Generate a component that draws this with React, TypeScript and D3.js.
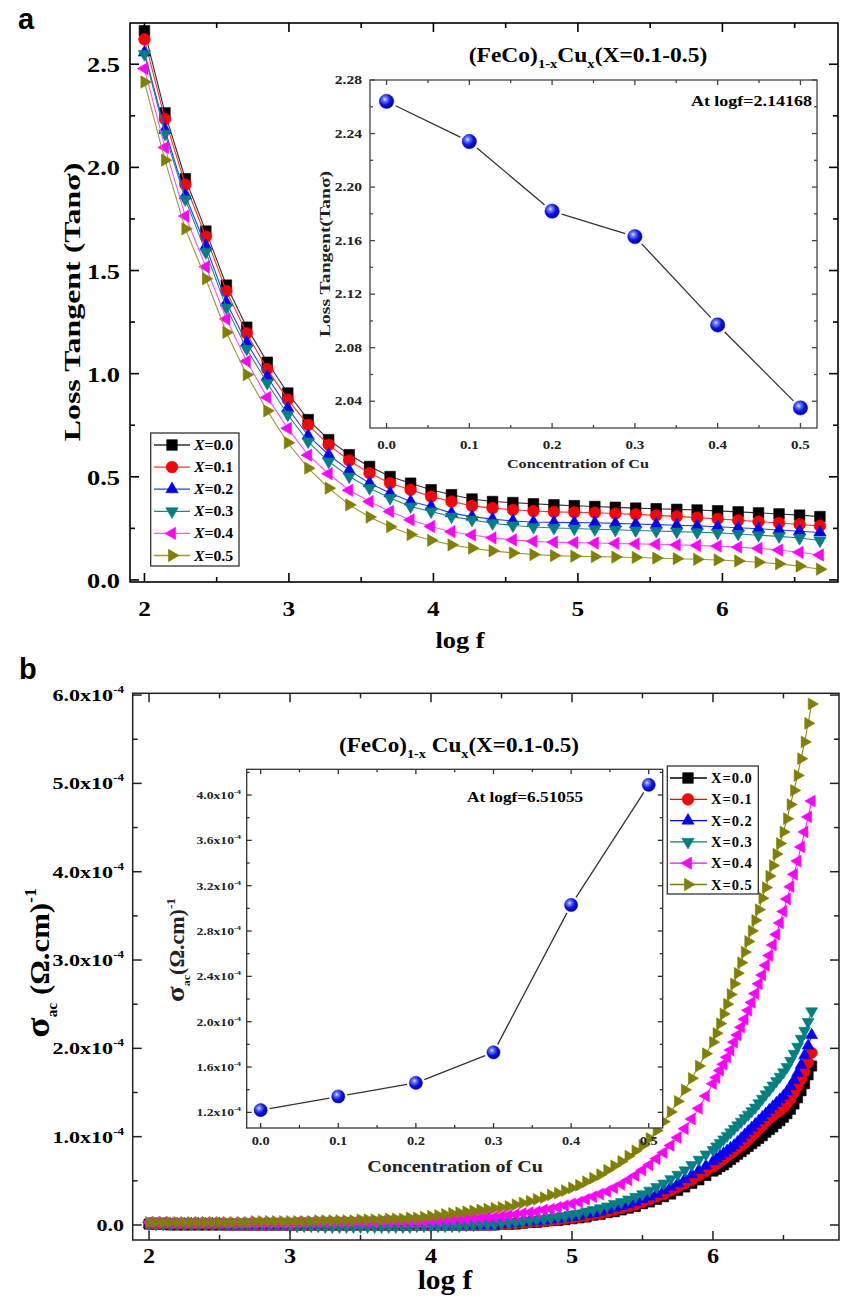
import React from 'react';
import * as d3 from 'd3';

const SERIF = '"Liberation Serif", "Times New Roman", serif';
const SANS = '"Liberation Sans", Arial, sans-serif';

// ---------------- DATA ----------------
const seriesNames = ['X=0.0', 'X=0.1', 'X=0.2', 'X=0.3', 'X=0.4', 'X=0.5'];
const seriesColors = ['#000000', '#ff0000', '#0000ff', '#008080', '#ff00ff', '#808000'];
const lineColorsA = ['#303030', '#ff3030', '#2040ff', '#208888', '#ff50ff', '#9a9a30'];
const seriesShapes = ['square', 'circle', 'up', 'down', 'left', 'right'];

// Panel a: loss tangent vs log f
const logfA = [2.000, 2.142, 2.283, 2.425, 2.567, 2.708, 2.850, 2.992, 3.133, 3.275, 3.417, 3.558, 3.700, 3.842, 3.984, 4.125, 4.267, 4.409, 4.550, 4.692, 4.834, 4.975, 5.117, 5.259, 5.400, 5.542, 5.684, 5.825, 5.967, 6.109, 6.250, 6.392, 6.534, 6.675];
const tanX00 = [2.662, 2.264, 1.945, 1.691, 1.429, 1.225, 1.055, 0.906, 0.777, 0.680, 0.607, 0.550, 0.501, 0.469, 0.437, 0.413, 0.392, 0.380, 0.375, 0.369, 0.364, 0.360, 0.356, 0.352, 0.348, 0.345, 0.342, 0.339, 0.335, 0.330, 0.325, 0.320, 0.314, 0.307];
const tanX01 = [2.621, 2.234, 1.917, 1.664, 1.400, 1.195, 1.022, 0.874, 0.752, 0.655, 0.579, 0.518, 0.469, 0.437, 0.404, 0.380, 0.359, 0.348, 0.340, 0.334, 0.330, 0.328, 0.326, 0.322, 0.318, 0.313, 0.308, 0.302, 0.296, 0.289, 0.283, 0.276, 0.269, 0.262];
const tanX02 = [2.557, 2.182, 1.864, 1.618, 1.345, 1.150, 0.985, 0.833, 0.699, 0.607, 0.531, 0.469, 0.421, 0.380, 0.356, 0.324, 0.307, 0.295, 0.286, 0.281, 0.279, 0.278, 0.277, 0.274, 0.271, 0.268, 0.265, 0.262, 0.258, 0.253, 0.248, 0.242, 0.236, 0.230];
const tanX03 = [2.549, 2.163, 1.845, 1.589, 1.320, 1.120, 0.955, 0.801, 0.671, 0.574, 0.501, 0.445, 0.397, 0.356, 0.332, 0.307, 0.291, 0.275, 0.264, 0.257, 0.252, 0.249, 0.246, 0.243, 0.240, 0.237, 0.234, 0.231, 0.228, 0.223, 0.217, 0.211, 0.203, 0.191];
const tanX04 = [2.479, 2.097, 1.764, 1.518, 1.265, 1.060, 0.885, 0.735, 0.605, 0.515, 0.435, 0.380, 0.332, 0.291, 0.259, 0.234, 0.218, 0.204, 0.194, 0.187, 0.183, 0.181, 0.179, 0.177, 0.175, 0.173, 0.170, 0.167, 0.164, 0.159, 0.153, 0.145, 0.134, 0.121];
const tanX05 = [2.414, 2.035, 1.702, 1.460, 1.200, 0.995, 0.820, 0.665, 0.542, 0.445, 0.364, 0.305, 0.258, 0.220, 0.192, 0.170, 0.154, 0.141, 0.131, 0.123, 0.118, 0.115, 0.113, 0.111, 0.109, 0.106, 0.103, 0.100, 0.097, 0.092, 0.086, 0.078, 0.067, 0.052];

// Inset a: loss tangent at log f = 2.14168 vs Cu concentration
const cuConc = [0.0, 0.1, 0.2, 0.3, 0.4, 0.5];
const tanAtLow = [2.264, 2.234, 2.182, 2.163, 2.097, 2.035];

// Panel b: sigma_ac (x10^-4 (Ohm.cm)^-1) vs log f
const logfB = [
  2.00, 2.05, 2.10, 2.15, 2.20, 2.25, 2.30, 2.35, 2.40, 2.45,
  2.50, 2.55, 2.60, 2.65, 2.70, 2.75, 2.80, 2.85, 2.90, 2.95,
  3.00, 3.05, 3.10, 3.15, 3.20, 3.25, 3.30, 3.35, 3.40, 3.45,
  3.50, 3.55, 3.60, 3.65, 3.70, 3.75, 3.80, 3.85, 3.90, 3.95,
  4.00, 4.05, 4.10, 4.15, 4.20, 4.25, 4.30, 4.35, 4.40, 4.45,
  4.50, 4.55, 4.60, 4.65, 4.70, 4.75, 4.80, 4.85, 4.90, 4.95,
  5.00, 5.05, 5.10, 5.15, 5.20, 5.25, 5.30, 5.35, 5.40, 5.45,
  5.50, 5.55, 5.60, 5.65, 5.70, 5.75, 5.80, 5.85, 5.90, 5.95,
  6.000, 6.025, 6.050, 6.075, 6.100, 6.125, 6.150, 6.175, 6.200, 6.225,
  6.250, 6.275, 6.300, 6.325, 6.350, 6.375, 6.400, 6.425, 6.450, 6.475,
  6.500, 6.525, 6.550, 6.575, 6.600, 6.625, 6.650, 6.675, 6.700];
const sigX00 = [
  0.01, 0.01, 0.01, 0.00, 0.00, 0.00, 0.00, 0.00, 0.00, 0.00,
  0.00, 0.00, 0.00, 0.00, 0.00, 0.00, 0.00, 0.00, 0.00, 0.00,
  0.00, 0.00, 0.00, 0.00, 0.00, 0.00, 0.00, 0.00, 0.00, 0.00,
  0.00, 0.00, 0.00, 0.00, 0.00, 0.00, 0.00, 0.00, 0.00, 0.00,
  0.00, 0.00, 0.00, 0.00, 0.00, 0.00, 0.00, 0.00, 0.00, 0.00,
  0.01, 0.01, 0.01, 0.02, 0.03, 0.03, 0.04, 0.05, 0.05, 0.06,
  0.07, 0.08, 0.09, 0.11, 0.12, 0.14, 0.15, 0.17, 0.19, 0.21,
  0.24, 0.26, 0.29, 0.32, 0.35, 0.39, 0.43, 0.47, 0.51, 0.56,
  0.61, 0.63, 0.66, 0.68, 0.71, 0.74, 0.77, 0.80, 0.83, 0.86,
  0.89, 0.92, 0.95, 0.98, 1.01, 1.05, 1.08, 1.11, 1.15, 1.18,
  1.22, 1.26, 1.31, 1.37, 1.44, 1.52, 1.60, 1.70, 1.80];
const sigX01 = [
  0.01, 0.01, 0.01, 0.01, 0.01, 0.01, 0.01, 0.01, 0.01, 0.01,
  0.01, 0.00, 0.00, 0.00, 0.00, 0.00, 0.00, 0.00, 0.00, 0.00,
  0.00, 0.00, 0.00, 0.00, 0.00, 0.00, 0.00, 0.00, 0.00, 0.00,
  0.00, 0.00, 0.00, 0.00, 0.00, 0.00, 0.00, 0.00, 0.00, 0.00,
  0.00, 0.00, 0.00, 0.00, 0.00, 0.00, 0.00, 0.00, 0.00, 0.00,
  0.01, 0.01, 0.02, 0.02, 0.03, 0.04, 0.04, 0.05, 0.06, 0.07,
  0.08, 0.09, 0.10, 0.12, 0.13, 0.15, 0.17, 0.19, 0.21, 0.23,
  0.26, 0.29, 0.32, 0.35, 0.39, 0.43, 0.47, 0.51, 0.56, 0.61,
  0.66, 0.69, 0.72, 0.75, 0.78, 0.81, 0.84, 0.87, 0.90, 0.93,
  0.97, 1.01, 1.05, 1.09, 1.13, 1.17, 1.21, 1.24, 1.27, 1.30,
  1.33, 1.38, 1.43, 1.50, 1.57, 1.65, 1.74, 1.84, 1.95];
const sigX02 = [
  0.01, 0.01, 0.01, 0.01, 0.01, 0.01, 0.01, 0.01, 0.01, 0.01,
  0.01, 0.00, 0.00, 0.00, 0.00, 0.00, 0.00, 0.00, 0.00, 0.00,
  0.00, 0.00, 0.00, 0.00, 0.00, 0.00, 0.00, 0.00, 0.00, 0.00,
  0.00, 0.00, 0.00, 0.00, 0.00, 0.00, 0.00, 0.00, 0.00, 0.00,
  0.00, 0.00, 0.00, 0.00, 0.00, 0.00, 0.00, 0.00, 0.00, 0.00,
  0.01, 0.02, 0.02, 0.03, 0.04, 0.04, 0.05, 0.06, 0.07, 0.08,
  0.09, 0.10, 0.12, 0.13, 0.15, 0.17, 0.19, 0.21, 0.23, 0.26,
  0.29, 0.32, 0.35, 0.39, 0.43, 0.47, 0.52, 0.57, 0.62, 0.67,
  0.72, 0.75, 0.78, 0.81, 0.84, 0.87, 0.90, 0.94, 0.98, 1.02,
  1.06, 1.10, 1.14, 1.18, 1.22, 1.26, 1.30, 1.34, 1.38, 1.42,
  1.46, 1.51, 1.57, 1.64, 1.72, 1.81, 1.92, 2.03, 2.15];
const sigX03 = [
  0.01, 0.01, 0.01, 0.01, 0.01, 0.01, 0.01, 0.01, 0.01, 0.01,
  0.01, 0.01, 0.01, 0.01, 0.01, 0.01, 0.01, 0.01, 0.01, 0.01,
  -0.01, -0.01, -0.01, -0.01, -0.01, -0.02, -0.02, -0.02, -0.02, -0.02,
  -0.02, -0.02, -0.02, -0.02, -0.02, -0.02, -0.02, -0.02, -0.01, -0.01,
  -0.01, -0.01, -0.01, -0.01, -0.01, 0.00, 0.00, 0.01, 0.01, 0.01,
  0.02, 0.03, 0.03, 0.04, 0.05, 0.06, 0.07, 0.08, 0.09, 0.10,
  0.12, 0.13, 0.15, 0.17, 0.19, 0.21, 0.24, 0.26, 0.29, 0.32,
  0.35, 0.39, 0.43, 0.47, 0.52, 0.57, 0.62, 0.68, 0.74, 0.80,
  0.85, 0.89, 0.93, 0.97, 1.01, 1.05, 1.09, 1.13, 1.17, 1.21,
  1.25, 1.29, 1.33, 1.38, 1.43, 1.48, 1.53, 1.58, 1.63, 1.68,
  1.73, 1.79, 1.86, 1.94, 2.02, 2.11, 2.20, 2.30, 2.42];
const sigX04 = [
  0.03, 0.03, 0.03, 0.02, 0.02, 0.02, 0.02, 0.02, 0.02, 0.02,
  0.02, 0.02, 0.02, 0.02, 0.02, 0.02, 0.02, 0.02, 0.02, 0.02,
  0.02, 0.03, 0.03, 0.03, 0.03, 0.03, 0.03, 0.03, 0.03, 0.03,
  0.03, 0.03, 0.03, 0.04, 0.04, 0.04, 0.04, 0.04, 0.04, 0.04,
  0.05, 0.05, 0.06, 0.06, 0.07, 0.07, 0.08, 0.08, 0.09, 0.09,
  0.10, 0.11, 0.12, 0.13, 0.14, 0.15, 0.17, 0.18, 0.20, 0.22,
  0.24, 0.26, 0.29, 0.32, 0.35, 0.38, 0.42, 0.46, 0.51, 0.56,
  0.62, 0.68, 0.75, 0.82, 0.90, 0.99, 1.09, 1.20, 1.32, 1.46,
  1.60, 1.67, 1.75, 1.82, 1.90, 1.98, 2.07, 2.15, 2.24, 2.33,
  2.43, 2.52, 2.62, 2.73, 2.83, 2.94, 3.05, 3.17, 3.29, 3.42,
  3.55, 3.69, 3.83, 3.97, 4.12, 4.28, 4.45, 4.62, 4.80];
const sigX05 = [
  0.03, 0.03, 0.03, 0.03, 0.03, 0.03, 0.03, 0.03, 0.03, 0.03,
  0.03, 0.03, 0.03, 0.03, 0.03, 0.04, 0.04, 0.04, 0.04, 0.04,
  0.04, 0.04, 0.04, 0.04, 0.05, 0.05, 0.05, 0.05, 0.05, 0.05,
  0.06, 0.06, 0.06, 0.06, 0.07, 0.07, 0.07, 0.08, 0.08, 0.09,
  0.10, 0.11, 0.12, 0.13, 0.14, 0.15, 0.16, 0.17, 0.18, 0.19,
  0.20, 0.21, 0.23, 0.25, 0.27, 0.29, 0.31, 0.34, 0.36, 0.39,
  0.42, 0.45, 0.49, 0.53, 0.57, 0.62, 0.67, 0.72, 0.78, 0.84,
  0.90, 0.98, 1.07, 1.17, 1.28, 1.40, 1.53, 1.66, 1.80, 1.94,
  2.07, 2.17, 2.28, 2.39, 2.50, 2.61, 2.73, 2.85, 2.97, 3.09,
  3.21, 3.33, 3.45, 3.57, 3.70, 3.82, 3.95, 4.07, 4.20, 4.32,
  4.45, 4.60, 4.76, 4.92, 5.09, 5.28, 5.47, 5.68, 5.90];

// Inset b: sigma_ac at log f = 6.51055 vs Cu concentration (x10^-4)
const sigAtHigh = [1.22, 1.34, 1.46, 1.73, 3.03, 4.09];

// Tick labels
const xTicksA = [2, 3, 4, 5, 6];
const yTicksA = [0, 0.5, 1.0, 1.5, 2.0, 2.5];
const xTicksInset = [0, 0.1, 0.2, 0.3, 0.4, 0.5];
const yTicksInsetA = [2.04, 2.08, 2.12, 2.16, 2.20, 2.24, 2.28];
const xTicksB = [2, 3, 4, 5, 6];
const yTicksB = [0, 1, 2, 3, 4, 5, 6];
const yTicksInsetB = [1.2, 1.6, 2.0, 2.4, 2.8, 3.2, 3.6, 4.0];

const tanSeries = [tanX00, tanX01, tanX02, tanX03, tanX04, tanX05];
const sigSeries = [sigX00, sigX01, sigX02, sigX03, sigX04, sigX05];

// ---------------- HELPERS ----------------
function markerD(shape: string, s: number) {
  if (shape === 'square') return d3.symbol(d3.symbolSquare, s * s * 0.78)() as string;
  if (shape === 'circle') return d3.symbol(d3.symbolCircle, Math.PI * (s / 2) * (s / 2) * 0.95)() as string;
  return d3.symbol(d3.symbolTriangle, (Math.sqrt(3) / 4) * s * s * 1.05)() as string;
}
const shapeRot: Record<string, number> = { square: 0, circle: 0, up: 0, down: 180, left: -90, right: 90 };

function Marker({ x, y, shape, color, s }: any) {
  return <path d={markerD(shape, s)} transform={`translate(${x},${y}) rotate(${shapeRot[shape]})`} fill={color} stroke={color} strokeWidth={0.6} />;
}

function T({ x, y, size, anchor = 'middle', rot = 0, sx = 1.25, children, weight = 'bold', family = SERIF, fill = '#000', ls }: any) {
  return (
    <text transform={`translate(${x},${y}) rotate(${rot}) scale(${sx},1)`} fontSize={size} textAnchor={anchor}
      fontWeight={weight} fontFamily={family} fill={fill} letterSpacing={ls}>{children}</text>
  );
}

function Frame({ xs, ys, xMajor, xMinor, yMajor, yMinor, majorLen, minorLen, stroke = '#000', sw = 1.5 }: any) {
  const [l, r] = xs.range();
  const [b, t] = ys.range();
  const els: any[] = [];
  xMajor.forEach((v: number, i: number) => {
    const x = xs(v);
    els.push(<line key={'xb' + i} x1={x} x2={x} y1={b} y2={b - majorLen} />);
    els.push(<line key={'xt' + i} x1={x} x2={x} y1={t} y2={t + majorLen} />);
  });
  xMinor.forEach((v: number, i: number) => {
    const x = xs(v);
    els.push(<line key={'xbm' + i} x1={x} x2={x} y1={b} y2={b - minorLen} />);
    els.push(<line key={'xtm' + i} x1={x} x2={x} y1={t} y2={t + minorLen} />);
  });
  yMajor.forEach((v: number, i: number) => {
    const y = ys(v);
    els.push(<line key={'yl' + i} x1={l} x2={l + majorLen} y1={y} y2={y} />);
    els.push(<line key={'yr' + i} x1={r} x2={r - majorLen} y1={y} y2={y} />);
  });
  yMinor.forEach((v: number, i: number) => {
    const y = ys(v);
    els.push(<line key={'ylm' + i} x1={l} x2={l + minorLen} y1={y} y2={y} />);
    els.push(<line key={'yrm' + i} x1={r} x2={r - minorLen} y1={y} y2={y} />);
  });
  return (
    <g stroke={stroke} strokeWidth={sw}>
      <rect x={l} y={t} width={r - l} height={b - t} fill="none" />
      {els}
    </g>
  );
}

const mids = (arr: number[], lo: number, hi: number) => {
  const out: number[] = [];
  for (let i = 0; i < arr.length - 1; i++) out.push((arr[i] + arr[i + 1]) / 2);
  const step = arr[1] - arr[0];
  if (arr[0] - step / 2 > lo) out.unshift(arr[0] - step / 2);
  if (arr[arr.length - 1] + step / 2 < hi) out.push(arr[arr.length - 1] + step / 2);
  return out;
};

function InsetLine({ pts, gap }: any) {
  const segs: any[] = [];
  for (let i = 0; i < pts.length - 1; i++) {
    const [x1, y1] = pts[i];
    const [x2, y2] = pts[i + 1];
    const dx = x2 - x1, dy = y2 - y1;
    const L = Math.hypot(dx, dy);
    const ux = dx / L, uy = dy / L;
    segs.push(<line key={i} x1={x1 + ux * gap} y1={y1 + uy * gap} x2={x2 - ux * gap} y2={y2 - uy * gap} stroke="#333" strokeWidth={1.3} />);
  }
  return <g>{segs}</g>;
}

function Sphere({ x, y, r }: any) {
  return <circle cx={x} cy={y} r={r} fill="url(#sphereGrad)" stroke="#1010c0" strokeWidth={0.5} />;
}

// ---------------- APP ----------------
export default function App() {
  const xA = d3.scaleLinear().domain([1.9, 6.8]).range([130, 838]);
  const yA = d3.scaleLinear().domain([-0.01, 2.70]).range([582, 23]);
  const xIA = d3.scaleLinear().domain([-0.02, 0.52]).range([370, 817]);
  const yIA = d3.scaleLinear().domain([2.02, 2.28]).range([428, 80]);
  const xB = d3.scaleLinear().domain([1.884, 6.894]).range([132.7, 839]);
  const yB = d3.scaleLinear().domain([-0.17, 6.02]).range([1240, 693.3]);
  const xIB = d3.scaleLinear().domain([-0.018, 0.518]).range([246.7, 662.7]);
  const yIB = d3.scaleLinear().domain([1.062, 4.227]).range([1128, 769.3]);

  const lineA = d3.line<number>().x((_, i) => xA(logfA[i])).y((d) => yA(d));
  const lineB = d3.line<number>().x((_, i) => xB(logfB[i])).y((d) => yB(d));

  const ptsIA = cuConc.map((c, i) => [xIA(c), yIA(tanAtLow[i])]);
  const ptsIB = cuConc.map((c, i) => [xIB(c), yIB(sigAtHigh[i])]);

  const legA = { x: 150.7, y: 433, w: 88.3, h: 133, y0: 445, dy: 22.1 };
  const legB = { x: 667.3, y: 766, w: 91, h: 128, y0: 778, dy: 21.3 };

  return (
    <svg width={843} height={1301} style={{ position: 'absolute', left: 0, top: 0, background: '#fff' }}
      xmlns="http://www.w3.org/2000/svg">
      <defs>
        <radialGradient id="sphereGrad" cx="38%" cy="35%" r="65%">
          <stop offset="0%" stopColor="#e8eeff" />
          <stop offset="22%" stopColor="#6a80ff" />
          <stop offset="60%" stopColor="#0a14ee" />
          <stop offset="100%" stopColor="#0000a8" />
        </radialGradient>
      </defs>
      <rect x={0} y={0} width={843} height={1301} fill="#fff" />

      {/* ================= PANEL A ================= */}
      <T x={18} y={29} size={29} family={SANS} sx={1} anchor="start">a</T>

      {tanSeries.map((s, k) => (
        <g key={'la' + k}>
          <path d={lineA(s) as string} fill="none" stroke={lineColorsA[k]} strokeWidth={1.1} />
          {s.map((v, i) => (
            <Marker key={i} x={xA(logfA[i])} y={yA(v)} shape={seriesShapes[k]} color={seriesColors[k]} s={12} />
          ))}
        </g>
      ))}

      {/* inset a */}
      <rect x={370} y={80} width={447} height={348} fill="#fff" />
      <Frame xs={xIA} ys={yIA} xMajor={xTicksInset} xMinor={mids(xTicksInset, -0.02, 0.52)}
        yMajor={yTicksInsetA} yMinor={mids(yTicksInsetA, 2.02, 2.28)} majorLen={5} minorLen={3} stroke="#444" sw={1.3} />
      <InsetLine pts={ptsIA} gap={10} />
      {ptsIA.map((p, i) => <Sphere key={i} x={p[0]} y={p[1]} r={7.2} />)}
      {yTicksInsetA.map((v) => (
        <T key={v} x={362} y={yIA(v) + 4} size={12} anchor="end" sx={1.3} fill="#222">{v.toFixed(2)}</T>
      ))}
      {xTicksInset.map((v) => (
        <T key={v} x={xIA(v)} y={449} size={12.5} sx={1.2} fill="#222">{v.toFixed(1)}</T>
      ))}
      <T x={578} y={468} size={13.5} sx={1.2} fill="#222">Concentration of Cu</T>
      <T x={330} y={254} size={14} rot={-90} sx={1.4} fill="#222">Loss Tangent(Tanσ)</T>
      <T x={812} y={106} size={15} anchor="end" sx={1.2}>At logf=2.14168</T>
      <T x={588} y={62} size={21} sx={1.12}>
        (FeCo)<tspan fontSize={13} dy={6}>1-x</tspan><tspan dy={-6}>Cu</tspan><tspan fontSize={13} dy={6}>x</tspan><tspan dy={-6}>(X=0.1-0.5)</tspan>
      </T>

      <Frame xs={xA} ys={yA} xMajor={xTicksA} xMinor={mids(xTicksA, 1.9, 6.8)}
        yMajor={yTicksA} yMinor={mids(yTicksA, -0.01, 2.7)} majorLen={9} minorLen={5} sw={1.6} />
      {yTicksA.map((v) => (
        <T key={v} x={120} y={yA(v) + 8} size={22} anchor="end" sx={1.2}>{v.toFixed(1)}</T>
      ))}
      {xTicksA.map((v) => (
        <T key={v} x={xA(v)} y={616} size={22} sx={1.15}>{String(v)}</T>
      ))}
      <T x={460} y={648} size={24} sx={1.1}>log f</T>
      <T x={80} y={302} size={24} rot={-90} sx={1.33}>Loss Tangent (Tanσ)</T>

      <rect x={legA.x} y={legA.y} width={legA.w} height={legA.h} fill="#fff" stroke="#333" strokeWidth={1.3} />
      {seriesNames.map((n, k) => {
        const yy = legA.y0 + k * legA.dy;
        return (
          <g key={'lga' + k}>
            <line x1={154} x2={190} y1={yy} y2={yy} stroke={lineColorsA[k]} strokeWidth={1.3} />
            <Marker x={172} y={yy} shape={seriesShapes[k]} color={seriesColors[k]} s={12} />
            <T x={194} y={yy + 5} size={15} anchor="start" sx={1.05}>
              <tspan fontStyle="italic">X</tspan>{n.slice(1)}
            </T>
          </g>
        );
      })}

      {/* ================= PANEL B ================= */}
      <T x={19} y={679} size={29} family={SANS} sx={1} anchor="start">b</T>

      {sigSeries.map((s, k) => (
        <g key={'lb' + k}>
          <path d={lineB(s) as string} fill="none" stroke={seriesColors[k]} strokeWidth={1} />
          {s.map((v, i) => (
            <Marker key={i} x={xB(logfB[i])} y={yB(v)} shape={seriesShapes[k]} color={seriesColors[k]} s={11.5} />
          ))}
        </g>
      ))}

      <rect x={246.7} y={769.3} width={416} height={358.7} fill="#fff" />
      <Frame xs={xIB} ys={yIB} xMajor={xTicksInset} xMinor={mids(xTicksInset, -0.018, 0.518)}
        yMajor={yTicksInsetB} yMinor={mids(yTicksInsetB, 1.062, 4.227)} majorLen={5} minorLen={3} stroke="#333" sw={1.3} />
      <InsetLine pts={ptsIB} gap={9} />
      {ptsIB.map((p, i) => <Sphere key={i} x={p[0]} y={p[1]} r={6.6} />)}
      {yTicksInsetB.map((v) => (
        <T key={v} x={241} y={yIB(v) + 4} size={10.5} anchor="end" sx={1.3} fill="#222">
          {v.toFixed(1)}x10<tspan fontSize={6.5} dy={-5}>-4</tspan>
        </T>
      ))}
      {xTicksInset.map((v) => (
        <T key={v} x={xIB(v)} y={1145} size={12} sx={1.2} fill="#222">{v.toFixed(1)}</T>
      ))}
      <T x={455} y={1172} size={16} sx={1.25} fill="#222">Concentration of Cu</T>
      <g transform="translate(184,950) rotate(-90)">
        <text textAnchor="middle" fontFamily={SERIF} fontWeight="bold" fill="#222" transform="scale(1.1,1)">
          <tspan fontSize={26}>σ</tspan><tspan fontSize={11} dy={6}>ac</tspan><tspan fontSize={20} dy={-6}>(Ω.cm)</tspan><tspan fontSize={12} dy={-9}>-1</tspan>
        </text>
      </g>
      <T x={467} y={802} size={15} anchor="start" sx={1.15}>At logf=6.51055</T>
      <T x={459} y={752} size={21} sx={1.1}>
        (FeCo)<tspan fontSize={13} dy={6}>1-x</tspan><tspan dy={-6}> Cu</tspan><tspan fontSize={13} dy={6}>x</tspan><tspan dy={-6}>(X=0.1-0.5)</tspan>
      </T>

      <Frame xs={xB} ys={yB} xMajor={xTicksB} xMinor={mids(xTicksB, 1.884, 6.894)}
        yMajor={yTicksB} yMinor={mids(yTicksB, -0.17, 6.02)} majorLen={9} minorLen={5} stroke="#222" sw={1.5} />
      {yTicksB.map((v) => (
        <T key={v} x={124} y={yB(v) + 6} size={17} anchor="end" sx={1.3}>
          {v === 0 ? '0.0' : <>{v.toFixed(1)}x10<tspan fontSize={10} dy={-8}>-4</tspan></>}
        </T>
      ))}
      {xTicksB.map((v) => (
        <T key={v} x={xB(v)} y={1263} size={22} sx={1.1}>{String(v)}</T>
      ))}
      <T x={445} y={1289} size={28} sx={1.05}>log f</T>
      <g transform="translate(49,963) rotate(-90)">
        <text textAnchor="middle" fontFamily={SERIF} fontWeight="bold" fill="#000" transform="scale(1.1,1)">
          <tspan fontSize={34}>σ</tspan><tspan fontSize={14} dy={8}>ac</tspan><tspan fontSize={28} dy={-8}> (Ω.cm)</tspan><tspan fontSize={16} dy={-13}>-1</tspan>
        </text>
      </g>

      <rect x={legB.x} y={legB.y} width={legB.w} height={legB.h} fill="#fff" stroke="#333" strokeWidth={1.3} />
      {seriesNames.map((n, k) => {
        const yy = legB.y0 + k * legB.dy;
        return (
          <g key={'lgb' + k}>
            <line x1={670} x2={707} y1={yy} y2={yy} stroke={seriesColors[k]} strokeWidth={1.3} />
            <Marker x={688} y={yy} shape={seriesShapes[k]} color={seriesColors[k]} s={12} />
            <T x={711} y={yy + 5} size={14.5} anchor="start" sx={1.0} ls={1}>{n}</T>
          </g>
        );
      })}
    </svg>
  );
}
